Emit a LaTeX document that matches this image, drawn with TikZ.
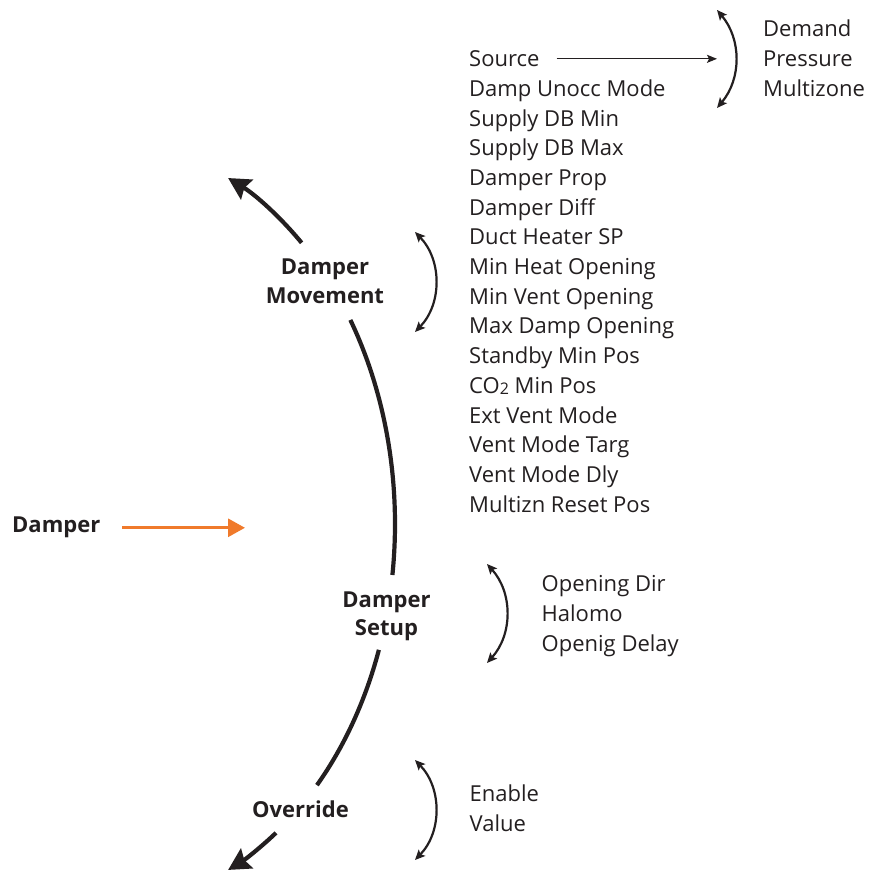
\documentclass[tikz,border=0pt]{standalone}
\usepackage{fontspec}
\setmainfont{Open Sans}
\usetikzlibrary{arrows.meta}

\definecolor{inkblack}{RGB}{35,31,32}
\definecolor{damporange}{RGB}{240,122,43}

\begin{document}
\begin{tikzpicture}[x=1pt,y=1pt,
  item/.style={anchor=base west,inner sep=0pt,text=inkblack,font=\fontsize{22}{28}\selectfont},
  menu/.style={anchor=base,inner sep=0pt,align=center,text=inkblack,font=\fontsize{22}{28.5}\selectfont\bfseries},
  mainarc/.style={draw=inkblack,line width=4.2pt},
  bigtip/.style={-{Stealth[length=22pt,width=23pt,inset=3pt]}},
  choice/.style={draw=inkblack,line width=2.2pt,{Stealth[length=10pt,width=9pt,inset=2pt]}-{Stealth[length=10pt,width=9pt,inset=2pt]}}]

\useasboundingbox (0,0) rectangle (869,872);

% the big arc, cut where the menu names stand
\coordinate (c) at (108.3,348);
\draw[mainarc,bigtip] (c) ++(47.6:286.7 and 380.8) arc[start angle=47.6,end angle=65.3,x radius=286.7,y radius=380.8];
\draw[mainarc] (c) ++(32.4:286.7 and 380.8) arc[start angle=32.4,end angle=-7.7,x radius=286.7,y radius=380.8];
\draw[mainarc] (c) ++(-19.3:286.7 and 380.8) arc[start angle=-19.3,end angle=-43.3,x radius=286.7,y radius=380.8];
\draw[mainarc,bigtip] (c) ++(-54.2:286.7 and 380.8) arc[start angle=-54.2,end angle=-65.3,x radius=286.7,y radius=380.8];

\node[menu] (movement) at (325,568.7) {Damper\\Movement};
\node[menu] (setup) at (386.5,236) {Damper\\Setup};
\node[menu] (override) at (300.5,54.7) {Override};

% entry
\node[menu,anchor=base west] (damper) at (12,339) {Damper};
\coordinate (dtip) at (245,346);
\draw[damporange,line width=3pt,-{Triangle[length=17pt,width=18pt]},shorten <=22pt] (damper.east) -- (damper.east -| dtip);

% damper movement list
\node[item] (source) at (469,805.3) {Source};
\node[item] (unocc) at (469,775.6) {Damp Unocc Mode};
\node[item] (dbmin) at (469,745.9) {Supply DB Min};
\node[item] (dbmax) at (469,716.2) {Supply DB Max};
\node[item] (prop) at (469,686.5) {Damper Prop};
\node[item] (diff) at (469,656.8) {Damper Diff};
\node[item] (heatsp) at (469,627.1) {Duct Heater SP};
\node[item] (minheat) at (469,597.4) {Min Heat Opening};
\node[item] (minvent) at (469,567.7) {Min Vent Opening};
\node[item] (maxdamp) at (469,538.0) {Max Damp Opening};
\node[item] (standby) at (469,508.3) {Standby Min Pos};
\node[item] (cotwo) at (469,478.6) {CO\raisebox{-1pt}{\fontsize{16}{16}\selectfont 2} Min Pos};
\node[item] (extvent) at (469,448.9) {Ext Vent Mode};
\node[item] (ventarg) at (469,419.2) {Vent Mode Targ};
\node[item] (ventdly) at (469,389.5) {Vent Mode Dly};
\node[item] (reset) at (469,359.8) {Multizn Reset Pos};

\coordinate (mvtop) at (415,640);
\coordinate (mvbot) at (415,540);
\draw[choice] (mvtop) to[bend left=44] (mvbot);

% source choices
\node[item] (demand) at (763,835.3) {Demand};
\node[item] (pressure) at (763,805.3) {Pressure};
\node[item] (multizone) at (763,775.3) {Multizone};

\coordinate (srctop) at (717,862);
\coordinate (srcbot) at (717,764);
\draw[choice] (srctop) to[bend left=40] (srcbot);
\draw[inkblack,line width=1.3pt,-{Stealth[length=10pt,width=8pt,inset=2pt]},shorten <=17pt] (source.east) -- (source.east -| srctop);

% damper setup list
\node[item] (opendir) at (541.5,280.3) {Opening Dir};
\node[item] (halomo) at (541.5,250.6) {Halomo};
\node[item] (delay) at (541.5,220.9) {Openig Delay};

\coordinate (sttop) at (487,308);
\coordinate (stbot) at (487,209);
\draw[choice] (sttop) to[bend left=42] (stbot);

% override list
\node[item] (enable) at (469.5,70.3) {Enable};
\node[item] (value) at (469.5,40.3) {Value};

\coordinate (ovtop) at (415,112);
\coordinate (ovbot) at (415,12);
\draw[choice] (ovtop) to[bend left=44] (ovbot);

\end{tikzpicture}
\end{document}
